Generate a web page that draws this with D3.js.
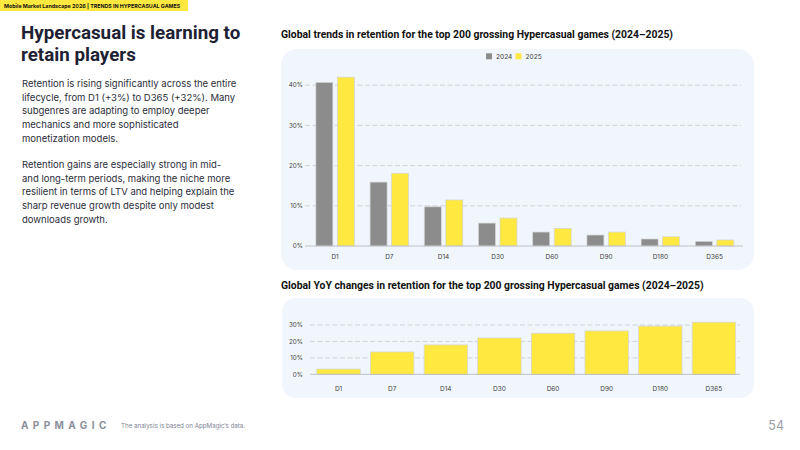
<!DOCTYPE html>
<html><head><meta charset="utf-8">
<script src="https://cdn.jsdelivr.net/npm/d3@7"></script>
<style>
html,body{margin:0;padding:0;background:#fff;}
svg{display:block;}
</style></head>
<body>
<svg id="c" width="800" height="450"></svg>
<script>
const categories = ["D1","D7","D14","D30","D60","D90","D180","D365"];
const series = ["2024","2025"];
const retention2024 = [40.7, 15.9, 9.75, 5.7, 3.47, 2.73, 1.74, 1.16];
const retention2025 = [42.0, 18.1, 11.45, 6.95, 4.38, 3.47, 2.3, 1.5];
const yoyChange = [3.2, 13.6, 17.9, 22.1, 25.0, 26.4, 29.3, 31.7];
const topTicks = [0, 10, 20, 30, 40];
const bottomTicks = [0, 10, 20, 30];
const seriesColors = ["#8c8c8c", "#ffe83f"];

const svg = d3.select("#c");
const font = "Inter, 'Noto Sans', sans-serif";
const fontB = "Roboto, Inter, sans-serif";

// header strip
svg.append("rect").attr("x",0).attr("y",0).attr("width",188).attr("height",11).attr("fill","#ffe83f");
svg.append("text").attr("x",4).attr("y",8).attr("font-family",font).attr("font-weight",700)
  .attr("font-size",5.3).attr("fill","#111").text("Mobile Market Landscape 2026 | TRENDS IN HYPERCASUAL GAMES");

// left title
const title = svg.append("text").attr("font-family",fontB).attr("font-weight",700).attr("font-size",18.8).attr("fill","#1e2133");
title.append("tspan").attr("x",21).attr("y",39).text("Hypercasual is learning to");
title.append("tspan").attr("x",21).attr("y",61).text("retain players");

const body = [
  ["Retention is rising significantly across the entire", 87],
  ["lifecycle, from D1 (+3%) to D365 (+32%). Many", 100.7],
  ["subgenres are adapting to employ deeper", 114.4],
  ["mechanics and more sophisticated", 128.1],
  ["monetization models.", 141.8],
  ["Retention gains are especially strong in mid-", 168],
  ["and long-term periods, making the niche more", 181.7],
  ["resilient in terms of LTV and helping explain the", 195.4],
  ["sharp revenue growth despite only modest", 209.1],
  ["downloads growth.", 222.8]
];
svg.append("g").selectAll("text").data(body).join("text")
  .attr("x",22).attr("y",d=>d[1]).attr("font-family",font).attr("font-size",9.5).attr("fill","#2a2d3a")
  .text(d=>d[0]);

// ---------- Top chart ----------
svg.append("text").attr("x",281).attr("y",38).attr("font-family",fontB).attr("font-weight",700)
  .attr("font-size",10.4).attr("fill","#111").text("Global trends in retention for the top 200 grossing Hypercasual games (2024–2025)");
svg.append("rect").attr("x",281).attr("y",49).attr("width",473).attr("height",221).attr("rx",16).attr("fill","#f1f6fd");

// legend
const leg = svg.append("g");
series.forEach((s,i)=>{
  const lx = 486 + i*29.5;
  leg.append("rect").attr("x",lx).attr("y",53.3).attr("width",6).attr("height",6).attr("fill",seriesColors[i]);
  leg.append("text").attr("x",lx+10).attr("y",59).attr("font-family",font).attr("font-size",6.6).attr("fill","#444").text(s);
});

const x1 = d3.scaleBand().domain(categories).range([308, 741.7]).paddingInner(0.29).paddingOuter(0.145);
const xs1 = d3.scaleBand().domain(series).range([0, x1.bandwidth()]).paddingInner(0.21);
const y1 = d3.scaleLinear().domain([0, 40]).range([246, 85.2]);

const g1 = svg.append("g");
g1.selectAll("line.grid").data(topTicks.filter(t=>t>0)).join("line")
  .attr("x1",305).attr("x2",741).attr("y1",d=>y1(d)).attr("y2",d=>y1(d))
  .attr("stroke","#c6c9cf").attr("stroke-width",0.8).attr("stroke-dasharray","5,2.5");
g1.selectAll("text.yt").data(topTicks).join("text")
  .attr("x",303).attr("y",d=>y1(d)+2.2).attr("text-anchor","end").attr("font-family",font)
  .attr("font-size",6.3).attr("fill","#444").text(d=>d+"%");

const rows = categories.map((c,i)=>({c, vals:[retention2024[i], retention2025[i]]}));
const grp = g1.selectAll("g.cat").data(rows).join("g").attr("transform",d=>`translate(${x1(d.c)},0)`);
grp.selectAll("rect").data(d=>d.vals.map((v,i)=>({s:series[i], v, i}))).join("rect")
  .attr("x",d=>xs1(d.s)).attr("width",xs1.bandwidth())
  .attr("y",d=>y1(d.v)).attr("height",d=>y1(0)-y1(d.v))
  .attr("fill",d=>seriesColors[d.i]).attr("stroke","#d4d4d4").attr("stroke-width",0.7);
g1.append("line").attr("x1",305).attr("x2",743).attr("y1",y1(0)).attr("y2",y1(0)).attr("stroke","#b8bbc2").attr("stroke-width",0.9);
g1.selectAll("text.xt").data(categories).join("text")
  .attr("x",d=>x1(d)+x1.bandwidth()/2).attr("y",259).attr("text-anchor","middle").attr("font-family",font)
  .attr("font-size",6.5).attr("fill","#444").text(d=>d);

// ---------- Bottom chart ----------
svg.append("text").attr("x",281).attr("y",289).attr("font-family",fontB).attr("font-weight",700)
  .attr("font-size",10.4).attr("fill","#111").text("Global YoY changes in retention for the top 200 grossing Hypercasual games (2024–2025)");
svg.append("rect").attr("x",282).attr("y",298).attr("width",472).attr("height",100).attr("rx",14).attr("fill","#f1f6fd");

const x2 = d3.scaleBand().domain(categories).range([311.5, 741]).paddingInner(0.19).paddingOuter(0.1);
const y2 = d3.scaleLinear().domain([0, 30]).range([374.3, 325]);
const g2 = svg.append("g");
g2.selectAll("line.grid").data(bottomTicks.filter(t=>t>0)).join("line")
  .attr("x1",310).attr("x2",740).attr("y1",d=>y2(d)).attr("y2",d=>y2(d))
  .attr("stroke","#c6c9cf").attr("stroke-width",0.8).attr("stroke-dasharray","5,2.5");
g2.selectAll("text.yt").data(bottomTicks).join("text")
  .attr("x",303).attr("y",d=>y2(d)+2.2).attr("text-anchor","end").attr("font-family",font)
  .attr("font-size",6.3).attr("fill","#444").text(d=>d+"%");
g2.selectAll("rect.bar").data(categories.map((c,i)=>({c, v:yoyChange[i]}))).join("rect")
  .attr("x",d=>x2(d.c)).attr("width",x2.bandwidth())
  .attr("y",d=>y2(d.v)).attr("height",d=>y2(0)-y2(d.v))
  .attr("fill",seriesColors[1]).attr("stroke","#d4d4d4").attr("stroke-width",0.7);
g2.append("line").attr("x1",310).attr("x2",740).attr("y1",y2(0)).attr("y2",y2(0)).attr("stroke","#b8bbc2").attr("stroke-width",0.9);
g2.selectAll("text.xt").data(categories).join("text")
  .attr("x",d=>x2(d)+x2.bandwidth()/2).attr("y",391).attr("text-anchor","middle").attr("font-family",font)
  .attr("font-size",6.5).attr("fill","#444").text(d=>d);

// footer
svg.append("text").attr("x",21).attr("y",429).attr("font-family",font).attr("font-weight",700)
  .attr("font-size",10).attr("letter-spacing",4.4).attr("fill","#8a8f9a").text("APPMAGIC");
svg.append("text").attr("x",121).attr("y",428).attr("font-family",font)
  .attr("font-size",6.2).attr("fill","#7d8290").text("The analysis is based on AppMagic’s data.");
svg.append("text").attr("x",784).attr("y",430).attr("text-anchor","end").attr("font-family",font)
  .attr("font-size",12.5).attr("fill","#9a9ea8").text("54");
</script>
</body></html>
